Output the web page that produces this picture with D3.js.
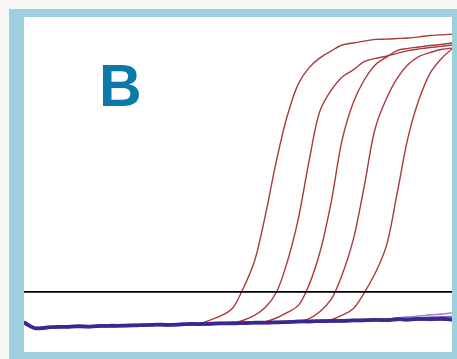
<!DOCTYPE html>
<html><head><meta charset="utf-8">
<script src="https://cdn.jsdelivr.net/npm/d3@7"></script>
<style>html,body{margin:0;padding:0;background:#f7f7f7;}svg{display:block;}</style>
</head><body>
<script>
// ---- data ----
const panelLabel = "B";
const cycles = d3.range(1, 41);
const threshold = 1.18;
const baselineDark = [0.11,-0.11,-0.09,-0.07,-0.06,-0.05,-0.05,-0.03,-0.04,-0.02,-0.02,0.00,0.01,0.00,0.02,0.03,0.04,0.04,0.06,0.05,0.07,0.08,0.09,0.09,0.11,0.12,0.13,0.13,0.14,0.15,0.16,0.17,0.18,0.18,0.20,0.20,0.21,0.22,0.21,0.20];
const baselineDark2 = [0.08,-0.12,-0.10,-0.06,-0.07,-0.04,-0.06,-0.04,-0.02,-0.03,-0.01,-0.01,0.02,0.01,0.01,0.04,0.03,0.05,0.05,0.07,0.06,0.09,0.08,0.10,0.10,0.13,0.12,0.14,0.15,0.14,0.17,0.16,0.19,0.17,0.21,0.19,0.22,0.20,0.23,0.19];
const baselineLightA = [0.11,-0.11,-0.09,-0.07,-0.06,-0.05,-0.05,-0.03,-0.04,-0.02,-0.02,0.00,0.01,0.00,0.02,0.03,0.04,0.04,0.06,0.05,0.07,0.08,0.09,0.09,0.11,0.12,0.13,0.13,0.14,0.15,0.16,0.17,0.18,0.20,0.25,0.29,0.32,0.36,0.39,0.43];
const baselineLightB = [0.11,-0.11,-0.09,-0.07,-0.06,-0.05,-0.05,-0.03,-0.04,-0.02,-0.02,0.00,0.01,0.00,0.02,0.03,0.04,0.04,0.06,0.05,0.07,0.08,0.09,0.09,0.11,0.12,0.13,0.13,0.14,0.15,0.16,0.17,0.18,0.18,0.20,0.23,0.25,0.27,0.29,0.30];
const sample1 = [0.11,-0.11,-0.09,-0.07,-0.06,-0.05,-0.05,-0.03,-0.04,-0.02,-0.02,0.00,0.01,0.00,0.02,0.03,0.06,0.18,0.34,0.60,1.33,2.28,3.93,5.86,7.48,8.61,9.20,9.55,9.79,10.00,10.07,10.14,10.20,10.21,10.23,10.25,10.29,10.34,10.36,10.39];
const sample2 = [0.11,-0.11,-0.09,-0.07,-0.06,-0.05,-0.05,-0.03,-0.04,-0.02,-0.02,0.00,0.01,0.00,0.02,0.03,0.04,0.04,0.06,0.07,0.17,0.34,0.63,1.17,2.27,3.80,5.91,7.68,8.39,8.86,9.11,9.41,9.52,9.60,9.70,9.80,9.86,9.91,9.95,10.00];
const sample3 = [0.11,-0.11,-0.09,-0.07,-0.06,-0.05,-0.05,-0.03,-0.04,-0.02,-0.02,0.00,0.01,0.00,0.02,0.03,0.04,0.04,0.06,0.05,0.07,0.08,0.12,0.25,0.45,0.70,1.46,2.65,4.41,6.63,7.94,8.75,9.29,9.56,9.80,9.88,9.93,9.98,10.02,10.07];
const sample4 = [0.11,-0.11,-0.09,-0.07,-0.06,-0.05,-0.05,-0.03,-0.04,-0.02,-0.02,0.00,0.01,0.00,0.02,0.03,0.04,0.04,0.06,0.05,0.07,0.08,0.09,0.09,0.11,0.13,0.23,0.49,0.92,1.80,3.04,4.95,7.02,8.06,8.81,9.30,9.59,9.73,9.84,9.89];
const sample5 = [0.11,-0.11,-0.09,-0.07,-0.06,-0.05,-0.05,-0.03,-0.04,-0.02,-0.02,0.00,0.01,0.00,0.02,0.03,0.04,0.04,0.06,0.05,0.07,0.08,0.09,0.09,0.11,0.12,0.13,0.13,0.19,0.35,0.58,1.15,1.85,2.80,4.70,6.71,8.06,8.99,9.50,9.86];

const amplified = [sample1, sample2, sample3, sample4, sample5];

// ---- drawing ----
const W = 457, H = 359;
const svg = d3.select("body").append("svg").attr("width", W).attr("height", H);

svg.append("rect").attr("x", 0).attr("y", 0).attr("width", W).attr("height", H).attr("fill", "#f7f7f7");
svg.append("rect").attr("x", 9).attr("y", 9).attr("width", W - 9).attr("height", H - 9).attr("fill", "#9ecfdf");
const plot = {left: 24, top: 17, right: 452, bottom: 352};
svg.append("rect").attr("x", plot.left).attr("y", plot.top)
  .attr("width", plot.right - plot.left).attr("height", plot.bottom - plot.top).attr("fill", "#ffffff");

svg.append("clipPath").attr("id", "clip").append("rect")
  .attr("x", plot.left).attr("y", plot.top)
  .attr("width", plot.right - plot.left).attr("height", plot.bottom - plot.top);

const x = d3.scaleLinear().domain([1, 40]).range([plot.left, plot.right]);
const y = d3.scaleLinear().domain([-1, 11]).range([353, 17]);

const g = svg.append("g").attr("clip-path", "url(#clip)");

const line = d3.line().x((d, i) => x(cycles[i])).y(d => y(d)).curve(d3.curveCatmullRom.alpha(0.5));

// amplification curves
g.selectAll("path.amp").data(amplified).join("path")
  .attr("class", "amp")
  .attr("d", line)
  .attr("fill", "none")
  .attr("stroke", "#a83b3b")
  .attr("stroke-width", 1.4);

// baseline (no-template) curves
g.append("path").attr("d", line(baselineLightA)).attr("fill", "none").attr("stroke", "#9a86cc").attr("stroke-width", 1.6);
g.append("path").attr("d", line(baselineLightB)).attr("fill", "none").attr("stroke", "#7f64bb").attr("stroke-width", 1.8);
g.append("path").attr("d", line(baselineDark2)).attr("fill", "none").attr("stroke", "#4a30a0").attr("stroke-width", 3.5);
g.append("path").attr("d", line(baselineDark)).attr("fill", "none").attr("stroke", "#3a2890").attr("stroke-width", 3.5);

// threshold line
g.append("line")
  .attr("x1", x(1)).attr("x2", x(40))
  .attr("y1", y(threshold)).attr("y2", y(threshold))
  .attr("stroke", "#000").attr("stroke-width", 1.8);

// panel label
svg.append("text")
  .attr("x", 99).attr("y", 106)
  .attr("font-family", "'Liberation Sans', Arial, sans-serif")
  .attr("font-weight", "bold")
  .attr("font-size", 59)
  .attr("fill", "#0b7aa8")
  .text(panelLabel);
</script>
</body></html>
